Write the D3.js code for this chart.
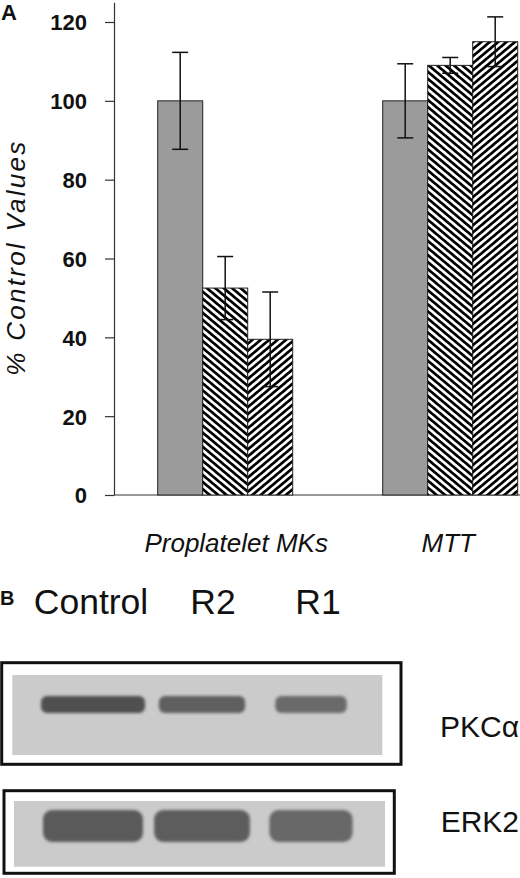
<!DOCTYPE html>
<html>
<head>
<meta charset="utf-8">
<script src="https://cdn.jsdelivr.net/npm/d3@7"></script>
<style>
  html, body { margin: 0; padding: 0; background: #fff; }
  svg { display: block; }
  text { font-family: "Liberation Sans", Arial, Helvetica, sans-serif; }
</style>
</head>
<body>
<svg id="chart" width="520" height="878"></svg>
<script>
// ---------- data ----------
const groups = ["Proplatelet MKs", "MTT"];
const series = ["Control", "R2", "R1"];
const proplateletMeans = [100, 52.5, 39.5];
const proplateletErrors = [12.3, 8, 12];
const mttMeans = [100, 109, 115];
const mttErrors = [9.4, 2, 6.3];
const yTickValues = [0, 20, 40, 60, 80, 100, 120];
const yTitle = "% Control Values";

const lanes = ["Control", "R2", "R1"];
const pkcIntensity = [1.0, 0.88, 0.78];
const erkIntensity = [1.0, 0.97, 0.88];
const blotLabels = ["PKCα", "ERK2"];

// ---------- build table ----------
const groupMeans = [proplateletMeans, mttMeans];
const groupErrors = [proplateletErrors, mttErrors];
const table = [];
groups.forEach((g, gi) => series.forEach((s, si) => table.push({
  group: g, series: s, value: groupMeans[gi][si], err: groupErrors[gi][si]
})));

const svg = d3.select("#chart");

// ---------- patterns ----------
const defs = svg.append("defs");
function hatch(id, angle) {
  const p = defs.append("pattern").attr("id", id)
    .attr("patternUnits", "userSpaceOnUse")
    .attr("width", 10).attr("height", 5.4)
    .attr("patternTransform", `rotate(${angle})`);
  p.append("rect").attr("width", 10).attr("height", 5.4).attr("fill", "#fff");
  p.append("rect").attr("y", 0).attr("width", 10).attr("height", 2.7).attr("fill", "#000");
}
hatch("hatchBack", 40);
hatch("hatchFwd", -40);
const blur = defs.append("filter").attr("id", "blur").attr("x", "-20%").attr("y", "-50%").attr("width", "140%").attr("height", "200%");
blur.append("feGaussianBlur").attr("stdDeviation", 1.4);

const fills = { "Control": "#9b9b9b", "R2": "url(#hatchBack)", "R1": "url(#hatchFwd)" };

// ---------- panel A scales ----------
const axisX = 114;
const y = d3.scaleLinear().domain([0, 125]).range([495, 2.3]);
const x0 = d3.scaleBand().domain(groups).range([112.7, 562.7]).paddingInner(0.4).paddingOuter(0.2);
const x1 = d3.scaleBand().domain(series).range([0, x0.bandwidth()]).padding(0);

// y axis
const yAxis = d3.axisLeft(y).tickValues(yTickValues).tickSize(9).tickPadding(18).tickSizeOuter(0);
const gy = svg.append("g").attr("transform", `translate(${axisX},0)`).call(yAxis);
gy.select(".domain").attr("stroke", "#333").attr("stroke-width", 1.2);
gy.selectAll(".tick line").attr("stroke", "#333").attr("stroke-width", 1.2);
gy.selectAll(".tick text").attr("font-size", 22).attr("font-weight", "bold").attr("fill", "#111")
  .attr("font-family", "Liberation Sans, Arial, sans-serif").attr("dy", "0.36em");

// x axis baseline
svg.append("line").attr("x1", axisX).attr("x2", 520).attr("y1", y(0)).attr("y2", y(0))
  .attr("stroke", "#333").attr("stroke-width", 1.2);

// bars
const gBars = svg.append("g");
gBars.selectAll("rect.bar").data(table).join("rect")
  .attr("class", "bar")
  .attr("x", d => x0(d.group) + x1(d.series))
  .attr("width", x1.bandwidth())
  .attr("y", d => y(d.value))
  .attr("height", d => y(0) - y(d.value))
  .attr("fill", d => fills[d.series])
  .attr("stroke", "#222").attr("stroke-width", 1);

// error bars
const capHalf = 8;
const gErr = svg.append("g").attr("stroke", "#111").attr("stroke-width", 1.5);
table.forEach(d => {
  const cx = x0(d.group) + x1(d.series) + x1.bandwidth() / 2;
  gErr.append("line").attr("x1", cx).attr("x2", cx).attr("y1", y(d.value + d.err)).attr("y2", y(d.value - d.err));
  gErr.append("line").attr("x1", cx - capHalf).attr("x2", cx + capHalf).attr("y1", y(d.value + d.err)).attr("y2", y(d.value + d.err));
  gErr.append("line").attr("x1", cx - capHalf).attr("x2", cx + capHalf).attr("y1", y(d.value - d.err)).attr("y2", y(d.value - d.err));
});

// group labels
svg.append("g").selectAll("text").data(groups).join("text")
  .attr("x", d => x0(d) + x0.bandwidth() / 2 + (d === groups[0] ? 11 : -2))
  .attr("y", 551.7)
  .attr("text-anchor", "middle")
  .attr("font-size", 26).attr("font-style", "italic").attr("fill", "#111")
  .text(d => d);

// y title
svg.append("text")
  .attr("transform", "translate(25,258.7) rotate(-90)")
  .attr("text-anchor", "middle")
  .attr("font-size", 26).attr("font-style", "italic").attr("fill", "#111")
  .attr("textLength", 234).attr("lengthAdjust", "spacing")
  .text(yTitle);

// panel letters
svg.append("text").attr("x", 1).attr("y", 20).attr("font-size", 22).attr("font-weight", "bold").attr("fill", "#111").text("A");
svg.append("text").attr("x", 0).attr("y", 605).attr("font-size", 20).attr("font-weight", "bold").attr("fill", "#111").text("B");

// ---------- panel B ----------
const lane = d3.scalePoint().domain(lanes).range([93, 311]);

svg.append("g").selectAll("text").data(lanes).join("text")
  .attr("x", d => lane(d) + (d === "R2" ? 11 : d === "R1" ? 7 : -2))
  .attr("y", 614)
  .attr("text-anchor", "middle")
  .attr("font-size", 35.5).attr("fill", "#111")
  .text(d => d);

function blot(opts) {
  const g = svg.append("g");
  g.append("rect").attr("x", opts.box[0]).attr("y", opts.box[1]).attr("width", opts.box[2]).attr("height", opts.box[3])
    .attr("fill", "#fff").attr("stroke", "#111").attr("stroke-width", 3);
  g.append("rect").attr("x", opts.inner[0]).attr("y", opts.inner[1]).attr("width", opts.inner[2]).attr("height", opts.inner[3])
    .attr("fill", "#cbcbcb");
  const wScale = d3.scaleLinear().domain([0.5, 1]).range([30, opts.maxW]);
  const cScale = d3.scaleLinear().domain([0, 1]).range(["#cbcbcb", opts.dark]);
  g.selectAll("rect.band").data(lanes.map((l, i) => ({ lane: l, v: opts.intensity[i] }))).join("rect")
    .attr("class", "band")
    .attr("x", d => lane(d.lane) - wScale(d.v) / 2)
    .attr("width", d => wScale(d.v))
    .attr("y", opts.bandY)
    .attr("height", opts.bandH)
    .attr("rx", opts.rx).attr("ry", opts.rx)
    .attr("fill", d => cScale(d.v))
    .attr("filter", "url(#blur)");
  g.append("text").attr("x", 519).attr("y", opts.labelY).attr("text-anchor", "end")
    .attr("font-size", 30).attr("fill", "#111").text(opts.label);
}

blot({
  box: [1.7, 662.7, 399.3, 101.6], inner: [12.3, 675, 370, 80],
  intensity: pkcIntensity, maxW: 104, bandY: 696, bandH: 17, rx: 6, dark: "#4f4f4f",
  label: blotLabels[0], labelY: 736.7
});
blot({
  box: [4, 790.7, 390.3, 82.6], inner: [14, 801, 371, 65.7],
  intensity: erkIntensity, maxW: 100, bandY: 810, bandH: 32, rx: 9, dark: "#5a5a5a",
  label: blotLabels[1], labelY: 831.7
});
</script>
</body>
</html>
